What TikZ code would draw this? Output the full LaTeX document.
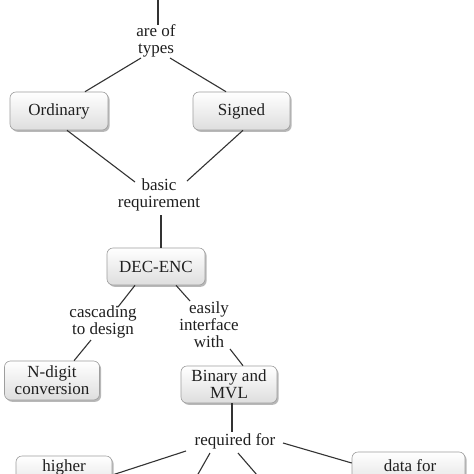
\documentclass[tikz,border=0pt]{standalone}
\usepackage{fontspec}
\setmainfont{Liberation Serif}
\usetikzlibrary{shadows,calc}
\newcommand\dfont{\fontsize{17}{17}\selectfont}
\begin{document}
\begin{tikzpicture}[x=1pt,y=-1pt,
  box/.style={draw=black!38, line width=0.6pt, rounded corners=6pt,
    top color=white, bottom color=black!13,
    drop shadow={shadow xshift=1.6pt,shadow yshift=-1.8pt,opacity=0.5,fill=black!55},
    font=\dfont, align=center, inner sep=0pt, text=black!88},
  lbl/.style={font=\dfont, align=center, inner sep=0pt, text=black!88},
  conn/.style={draw=black!80, line width=1.1pt}]
\useasboundingbox (0,0) rectangle (474,474);
\fill[white] (0,0) rectangle (474,474);
\clip (0,0) rectangle (474,474);

% boxes
\node[box, minimum width=98pt, minimum height=38pt] (ord) at (59,111) {Ordinary};
\node[box, minimum width=97pt, minimum height=38pt] (sig) at (241.5,111) {Signed};
\node[box, minimum width=98pt, minimum height=37pt] (dec) at (156,266.5) {DEC-ENC};
\node[box, minimum width=95pt, minimum height=39pt] (ndig) at (52,380.5) {N-digit\\conversion};
\node[box, minimum width=96pt, minimum height=37pt] (bin) at (229,384.5) {Binary and\\MVL};
\node[box, minimum width=96pt, minimum height=38pt] (high) at (64,475) {};
\node[box, minimum width=113pt, minimum height=38pt] (data) at (408.5,471) {};
\node[lbl] (hightxt) at (64,467) {higher};
\node[lbl] (datatxt) at (410,466) {data for};

% link labels
\node[lbl] (types) at (156,41) {are of\\types};
\node[lbl] (basic) at (159,195) {basic\\requirement};
\node[lbl] (casc) at (103,322) {cascading\\to design};
\node[lbl] (easy) at (209,325) {easily\\interface\\with};
\node[lbl] (req) at (235,441) {required for};

\coordinate (t0) at (158,-5);
\coordinate (b1) at (189,490);
\coordinate (b2) at (270,490);

% connectors
\draw[conn] (t0) -- ($(types)+(2,-16)$);
\draw[conn] ($(types)+(-15,17)$) -- ($(ord.north)+(26,0)$);
\draw[conn] ($(types)+(14,17)$) -- ($(sig.north)+(-15.5,0)$);
\draw[conn] ($(ord.south)+(8,0)$) -- ($(basic)+(-24,-13)$);
\draw[conn] ($(sig.south)+(1.5,0)$) -- ($(basic)+(28,-14)$);
\draw[conn] ($(basic)+(2,20)$) -- ($(dec.north)+(5,0)$);
\draw[conn] ($(dec.south)+(-21,0)$) -- ($(casc)+(15,-15)$);
\draw[conn] ($(dec.south)+(20,0)$) -- ($(easy)+(-19,-24)$);
\draw[conn] ($(casc)+(-12,18)$) -- ($(ndig.north)+(22,0)$);
\draw[conn] ($(easy)+(21,24)$) -- ($(bin.north)+(14,0)$);
\draw[conn] ($(bin.south)+(3,0)$) -- ($(req)+(-3,-9)$);
\draw[conn] ($(req)+(-49,10)$) -- (high.east);
\draw[conn] ($(req)+(-25,12)$) -- (b1);
\draw[conn] ($(req)+(3,12)$) -- (b2);
\draw[conn] ($(req)+(48,2)$) -- ($(data.west)+(0,-8)$);
\end{tikzpicture}
\end{document}
